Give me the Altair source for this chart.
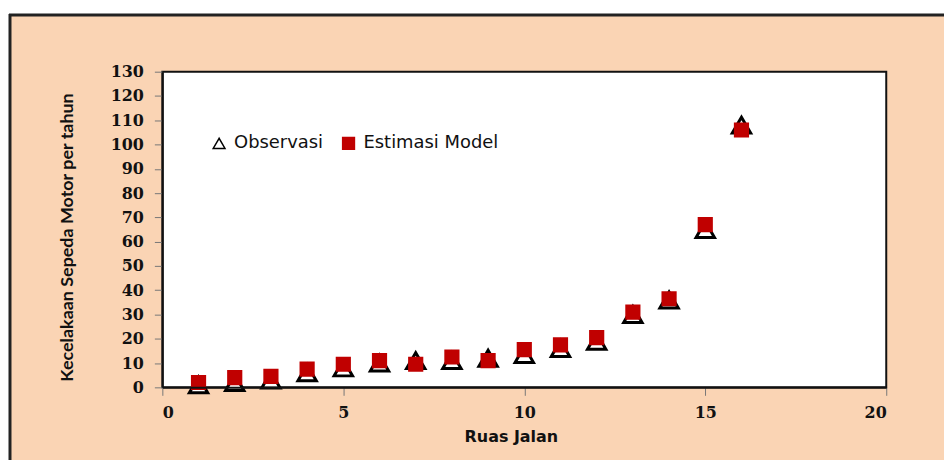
import altair as alt
import pandas as pd

ruas = list(range(1, 17))
observasi = [1, 2, 3, 6, 8, 10, 11, 11, 12, 13.5, 16, 19, 30, 36, 65, 108]
estimasi = [2, 4, 4.5, 7.5, 9.5, 11, 9.5, 12.5, 11, 15.5, 17.5, 20.5, 31, 36.5, 67, 106]

series_names = ["Observasi", "Estimasi Model"]

rows = []
for x, v in zip(ruas, observasi):
    rows.append({"Ruas": x, "Nilai": v, "Seri": series_names[0], "o": 0})
for x, v in zip(ruas, estimasi):
    rows.append({"Ruas": x, "Nilai": v, "Seri": series_names[1], "o": 1})
df = pd.DataFrame(rows)

W, H = 727, 317
one = pd.DataFrame({"a": [0]})

frame = alt.Chart(one).mark_rect(fill="#FAD4B4").encode(
    x=alt.value(-153), x2=alt.value(W + 120),
    y=alt.value(-57), y2=alt.value(H + 120)
)
frame_left = alt.Chart(one).mark_rule(color="#222222", strokeWidth=3).encode(
    x=alt.value(-153), y=alt.value(-58), y2=alt.value(H + 120)
)
frame_top = alt.Chart(one).mark_rule(color="#222222", strokeWidth=3).encode(
    x=alt.value(-154), x2=alt.value(W + 120), y=alt.value(-57)
)

plotbg = alt.Chart(one).mark_rect(fill="white", stroke="#111111", strokeWidth=2).encode(
    x=alt.value(0), x2=alt.value(W), y=alt.value(0), y2=alt.value(H)
)

leg = alt.Legend(title=None, orient="none", legendX=48, legendY=63,
                 direction="horizontal", labelFont="DejaVu Sans",
                 labelFontSize=18, labelColor="#111111", labelOffset=6,
                 columnPadding=16, symbolStrokeWidth=1.5, symbolSize=140, zindex=3)

pts = alt.Chart(df).mark_point(strokeWidth=3, opacity=1).encode(
    x=alt.X("Ruas:Q", scale=alt.Scale(domain=[0, 20], nice=False),
            axis=alt.Axis(values=[0, 5, 10, 15, 20], title="Ruas Jalan", grid=False, zindex=2,
                          titleX=350)),
    y=alt.Y("Nilai:Q", scale=alt.Scale(domain=[0, 130], nice=False),
            axis=alt.Axis(values=list(range(0, 131, 10)),
                          title="Kecelakaan Sepeda Motor per tahun", grid=False, zindex=2,
                          titleY=166)),
    shape=alt.Shape("Seri:N", scale=alt.Scale(domain=series_names, range=["triangle-up", "square"]), legend=leg),
    fill=alt.Fill("Seri:N", scale=alt.Scale(domain=series_names, range=["white", "#C00000"]), legend=leg),
    stroke=alt.Stroke("Seri:N", scale=alt.Scale(domain=series_names, range=["black", "#C00000"]), legend=leg),
    size=alt.condition(alt.datum.Seri == "Observasi", alt.value(340), alt.value(150)),
    order=alt.Order("o:Q"),
)

chart = alt.layer(frame, frame_left, frame_top, plotbg, pts).properties(
    width=W, height=H,
    padding={"left": 155, "top": 63, "right": 58, "bottom": 72},
    autosize=alt.AutoSizeParams(type="none"),
    background="white",
).configure_view(stroke=None).configure_axis(
    labelFont="DejaVu Serif", labelFontWeight="bold", labelFontSize=16, labelColor="#111111",
    titleFont="Lato", titleFontWeight="bold", titleFontSize=18, titleColor="#111111",
    domainColor="#111111", domainWidth=2, tickColor="#777777", tickSize=8,
).configure_axisX(
    labelPadding=9, titlePadding=8, titleFont="DejaVu Sans", titleFontSize=16
).configure_axisY(labelPadding=11, titlePadding=34)

chart.save("out.html", embed_options={"renderer": "svg", "actions": False})
